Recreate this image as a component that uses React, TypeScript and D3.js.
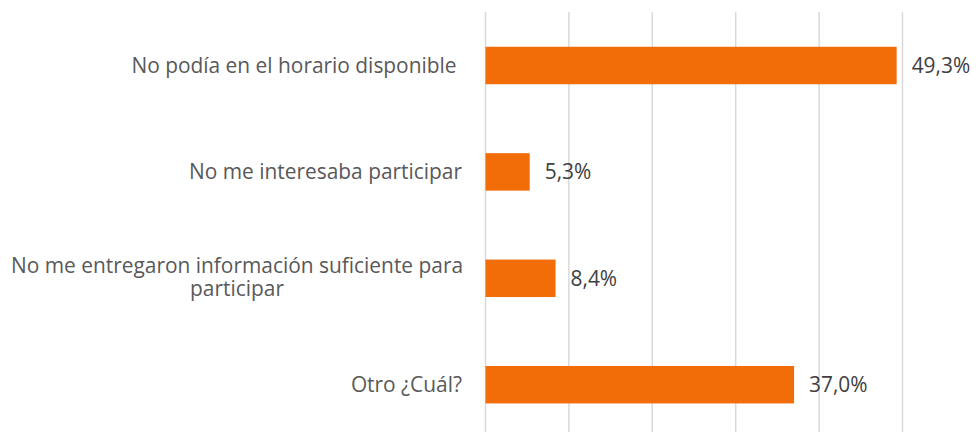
import React from "react";
import * as d3 from "d3";

const categories: string[][] = [
  ["No podía en el horario disponible "],
  ["No me interesaba participar"],
  ["No me entregaron información suficiente para", "participar"],
  ["Otro ¿Cuál?"],
];
const values: number[] = [49.3, 5.3, 8.4, 37.0];
const ticks: number[] = [0, 10, 20, 30, 40, 50];

const W = 976;
const H = 432;
const FONT = "'Open Sans', sans-serif";
const FS = 20.9;

export default function App() {
  const x = d3.scaleLinear().domain([0, 50]).range([485.5, 902.5]);
  const y = d3
    .scaleBand<number>()
    .domain(d3.range(values.length))
    .range([12.3, 437.9])
    .paddingInner(0.648)
    .paddingOuter(0.324);
  const fmt = (v: number) => v.toFixed(1).replace(".", ",") + "%";
  const lineH = 23.5;
  return (
    <svg
      width={W}
      height={H}
      style={{ position: "absolute", left: 0, top: 0, background: "#fff" }}
      fontFamily={FONT}
    >
      {ticks.map((t) => (
        <line
          key={t}
          x1={x(t)}
          x2={x(t)}
          y1={12}
          y2={438}
          stroke="#d9d9d9"
          strokeWidth={1.5}
        />
      ))}
      {values.map((v, i) => {
        const yc = (y(i) as number) + y.bandwidth() / 2;
        const lines = categories[i];
        const multi = lines.length > 1;
        return (
          <g key={i}>
            <rect
              x={x(0)}
              y={y(i)}
              width={x(v) - x(0)}
              height={y.bandwidth()}
              fill="#f26c08"
            />
            <text
              x={x(v) + 15}
              y={yc}
              dy="0.35em"
              fontSize={FS}
              fill="#404040"
            >
              {fmt(v)}
            </text>
            {multi ? (
              <text fontSize={FS} fill="#595959" textAnchor="middle">
                {lines.map((l, k) => (
                  <tspan
                    key={k}
                    x={237}
                    y={yc - 1 + (k - (lines.length - 1) / 2) * lineH}
                    dy="0.35em"
                  >
                    {l}
                  </tspan>
                ))}
              </text>
            ) : (
              <text
                x={462}
                y={yc}
                dy="0.35em"
                fontSize={FS}
                fill="#595959"
                textAnchor="end"
                style={{ whiteSpace: "pre" }}
              >
                {lines[0]}
              </text>
            )}
          </g>
        );
      })}
    </svg>
  );
}
